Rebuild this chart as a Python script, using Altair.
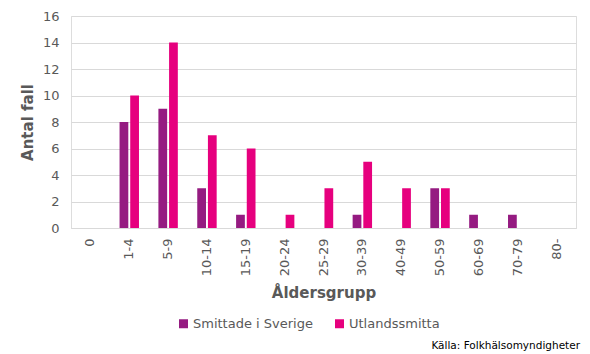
import altair as alt
import pandas as pd

categories = ["0", "1-4", "5-9", "10-14", "15-19", "20-24", "25-29",
              "30-39", "40-49", "50-59", "60-69", "70-79", "80-"]
sverige = [0, 8, 9, 3, 1, 0, 0, 1, 0, 3, 1, 1, 0]
utland = [0, 10, 14, 7, 6, 1, 3, 5, 3, 3, 0, 0, 0]
series_names = ["Smittade i Sverige", "Utlandssmitta"]
series_colors = ["#951B81", "#E6007E"]

rows = []
for c, s, u in zip(categories, sverige, utland):
    rows.append({"Åldersgrupp": c, "Serie": series_names[0], "Antal": s})
    rows.append({"Åldersgrupp": c, "Serie": series_names[1], "Antal": u})
df = pd.DataFrame(rows)

FONT = "DejaVu Sans"
GRAY = "#595959"

bars = alt.Chart(df).mark_bar().encode(
    x=alt.X("Åldersgrupp:N", sort=categories,
            scale=alt.Scale(paddingInner=0.5, paddingOuter=0.25),
            axis=alt.Axis(title="Åldersgrupp", labelAngle=270, labelFontSize=13,
                          labelColor=GRAY, labelFont=FONT, ticks=False,
                          labelPadding=10, domainColor="#D9D9D9",
                          titleFont=FONT, titleFontSize=15, titleFontWeight="bold",
                          titleColor=GRAY, titlePadding=10)),
    xOffset=alt.XOffset("Serie:N", sort=series_names,
                        scale=alt.Scale(paddingInner=0.18, paddingOuter=0)),
    y=alt.Y("Antal:Q", scale=alt.Scale(domain=[0, 16], nice=False),
            axis=alt.Axis(title="Antal fall", values=list(range(0, 17, 2)),
                          labelFontSize=13, labelColor=GRAY, labelFont=FONT,
                          ticks=False, domain=False, labelPadding=12,
                          gridColor="#D9D9D9", titleFont=FONT, titleFontSize=15,
                          titleFontWeight="bold", titleColor=GRAY, titlePadding=7)),
    color=alt.Color("Serie:N", sort=series_names,
                    scale=alt.Scale(domain=series_names, range=series_colors),
                    legend=alt.Legend(title=None, orient="none", direction="horizontal",
                                      legendX=106, legendY=301, symbolType="square",
                                      symbolSize=81, symbolStrokeWidth=0,
                                      labelFontSize=13, labelColor=GRAY, labelFont=FONT,
                                      columnPadding=20, labelOffset=3)),
)

source = alt.Chart(pd.DataFrame({"t": ["Källa:  Folkhälsomyndigheter"]})).mark_text(
    align="right", baseline="middle", fontSize=10.5, font=FONT, color="#000000"
).encode(text="t:N", x=alt.value(509), y=alt.value(330))

chart = alt.layer(bars, source).properties(
    width=505, height=212,
    autosize=alt.AutoSizeParams(type="none"),
    padding={"left": 71, "top": 16, "right": 14, "bottom": 126},
).configure_view(stroke=None).configure(background="white")

chart.save("out.html", embed_options={"renderer": "svg", "actions": False})
